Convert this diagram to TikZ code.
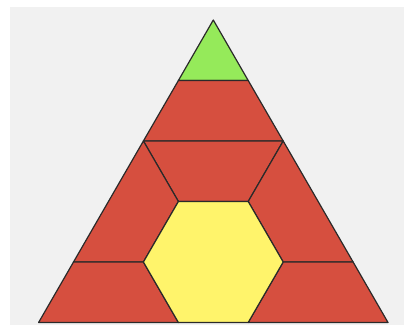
\documentclass[tikz,border=0pt]{standalone}
\definecolor{bgc}{HTML}{F1F1F1}
\definecolor{redc}{HTML}{D64F3F}
\definecolor{greenc}{HTML}{95EA5A}
\definecolor{yellowc}{HTML}{FFF46B}
\definecolor{edgec}{HTML}{2A2A2A}
\begin{document}
\begin{tikzpicture}[x=1pt,y=-1pt,
  piece/.style={draw=edgec,line width=1.2pt,line join=round}]
\useasboundingbox (0,0) rectangle (404,328);
\fill[white] (0,0) rectangle (404,328);
\fill[bgc] (10,7) rectangle (404,325);
% grid: apex (213.3,20), unit 69.87, row height 60.5
\coordinate (A) at (213.3,20);
\coordinate (G1) at (178.4,80.5);   \coordinate (G2) at (248.2,80.5);
\coordinate (L2) at (143.4,141);    \coordinate (R2) at (283.2,141);
\coordinate (H1) at (178.4,201.5);  \coordinate (H2) at (248.2,201.5);
\coordinate (L4) at (73.5,262);     \coordinate (H6) at (143.4,262);
\coordinate (H3) at (283.2,262);    \coordinate (R4) at (353.1,262);
\coordinate (BL) at (38.6,322.5);   \coordinate (H5) at (178.4,322.5);
\coordinate (H4) at (248.2,322.5);  \coordinate (BR) at (388,322.5);
% pieces
\filldraw[piece,fill=greenc] (A) -- (G2) -- (G1) -- cycle;
\filldraw[piece,fill=redc] (G1) -- (G2) -- (R2) -- (L2) -- cycle;
\filldraw[piece,fill=redc] (L2) -- (R2) -- (H2) -- (H1) -- cycle;
\filldraw[piece,fill=redc] (L2) -- (H1) -- (H6) -- (L4) -- cycle;
\filldraw[piece,fill=redc] (R2) -- (R4) -- (H3) -- (H2) -- cycle;
\filldraw[piece,fill=redc] (L4) -- (H6) -- (H5) -- (BL) -- cycle;
\filldraw[piece,fill=redc] (H3) -- (R4) -- (BR) -- (H4) -- cycle;
\filldraw[piece,fill=yellowc] (H1) -- (H2) -- (H3) -- (H4) -- (H5) -- (H6) -- cycle;
\end{tikzpicture}
\end{document}
